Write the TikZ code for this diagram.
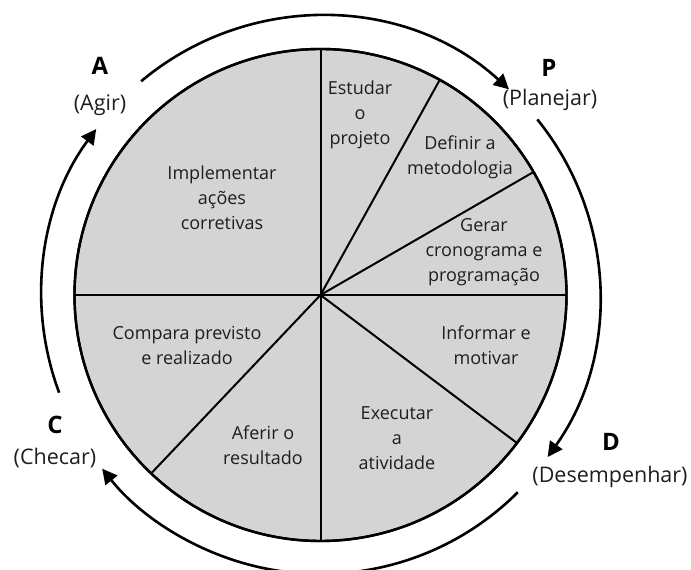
\documentclass[tikz,border=0pt]{standalone}
\usepackage{fontspec}
\setmainfont{Open Sans}
\usetikzlibrary{arrows.meta}
\definecolor{wedge}{HTML}{D4D4D4}
\definecolor{ink}{HTML}{1E1E1E}
\begin{document}
\begin{tikzpicture}[x=1pt,y=1pt,
  rim/.style={draw=black,line width=2.4pt,fill=wedge},
  divider/.style={draw=black,line width=2pt},
  cyclearrow/.style={draw=black,line width=2.6pt,-{Triangle[length=15pt,width=15pt]}},
  cycleline/.style={draw=black,line width=2.6pt},
  steptext/.style={align=center,text=ink,font=\fontsize{18}{25}\selectfont},
  phaseletter/.style={text=black,font=\bfseries\fontsize{24}{28}\selectfont},
  phasename/.style={text=ink,font=\fontsize{21.5}{26}\selectfont}]
\useasboundingbox (0,0) rectangle (691,570);

% centre of the wheel
\coordinate (c) at (320.5,275);

% wheel
\path[rim] (c) circle[radius=246];

% rim points of the dividers
\foreach \nm/\ang in {r90/90, r61/61, r30/30, r0/0, rm37/-37, rm90/-90, rm133/-133.5, r180/180}
  \coordinate (\nm) at ([shift={(\ang:246)}]c);
\foreach \nm in {r90, r61, r30, r0, rm37, rm90, rm133, r180}
  \draw[divider] (c) -- (\nm);
\path[draw=black,line width=2.4pt] (c) circle[radius=246];

% step texts
\node[steptext] (implementar) at (222,372) {Implementar\\ações\\corretivas};
\node[steptext] (estudar) at (360,455) {Estudar\\o\\projeto};
\node[steptext] (definir) at (460,413) {Definir a\\metodologia};
\node[steptext] (gerar) at (484,318) {Gerar\\cronograma e\\programação};
\node[steptext] (informar) at (486,225) {Informar e\\motivar};
\node[steptext] (executar) at (397,132) {Executar\\a\\atividade};
\node[steptext] (aferir) at (263,125) {Aferir o\\resultado};
\node[steptext] (compara) at (187,225) {Compara previsto\\e realizado};

% cycle arrows around the wheel
\coordinate (ap0) at ([shift={(130:279)}]c);
\coordinate (pd0) at ([shift={(39:279)}]c);
\coordinate (dc0) at ([shift={(-45:279)}]c);
\coordinate (ca0) at ([shift={(200.5:279)}]c);
\draw[cyclearrow] (ap0) arc[start angle=130, end angle=47.5, radius=279];
\draw[cyclearrow] (pd0) arc[start angle=39, end angle=-35.5, radius=279];
\draw[cyclearrow] (dc0) arc[start angle=-45, end angle=-141.5, radius=279];
\draw[cyclearrow] (ca0) arc[start angle=200.5, end angle=143.5, radius=279];

% phase labels
\node[phaseletter] (A) at (100,504) {A};
\node[phasename] (agir) at (100,465) {(Agir)};
\node[phaseletter] (P) at (549,502) {P};
\node[phasename] (planejar) at (550,470) {(Planejar)};
\node[phaseletter] (D) at (611,128) {D};
\node[phasename] (desempenhar) at (610,93) {(Desempenhar)};
\node[phaseletter] (C) at (55,145) {C};
\node[phasename] (checar) at (55,112) {(Checar)};
\end{tikzpicture}
\end{document}
